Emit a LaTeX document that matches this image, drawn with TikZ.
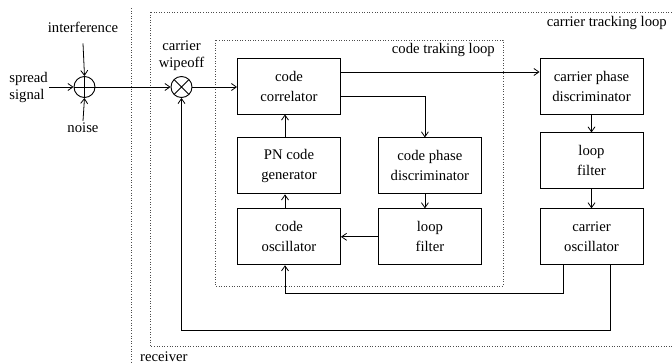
\documentclass[tikz,border=0pt]{standalone}
\usepackage{fontspec}
\setmainfont{Liberation Serif}
\usetikzlibrary{positioning}
\usetikzlibrary{arrows.meta}
\tikzset{
    block/.style = {rectangle, draw=black, line width=0.9pt, align=center, minimum width=103pt, minimum height=56pt, inner sep=2pt},
    sumnode/.style = {circle, draw=black, line width=0.9pt, minimum size=21pt, inner sep=0pt,
      path picture={\draw[line width=0.8pt] (path picture bounding box.north) -- (path picture bounding box.south)
        (path picture bounding box.west) -- (path picture bounding box.east);}},
    multnode/.style = {circle, draw=black, line width=0.9pt, minimum size=21pt, inner sep=0pt,
      path picture={\draw[line width=0.8pt] (path picture bounding box.north west) -- (path picture bounding box.south east)
        (path picture bounding box.south west) -- (path picture bounding box.north east);}},
    edgen/.style = {-{Straight Barb[length=5pt,width=7pt]}, line width=0.8pt, black},
    loopd/.style = {dotted, line width=0.6pt, black!70}, % loop borders
    lbl/.style = {align=center, inner sep=1pt, font=\rmfamily\fontsize{14.7}{17}\selectfont}
}
\begin{document}
\begin{tikzpicture}[
	x=1pt, y=1pt,
  node distance=23pt,
	font=\rmfamily\fontsize{14.7}{20}\selectfont]
  \useasboundingbox (0,0) rectangle (672,-364);
  % loop borders
  \draw[loopd] (131,-8) -- (131,-364);
  \draw[loopd] (150,-12) rectangle (680,-346);
  \draw[loopd] (215,-40) rectangle (503,-286);
  \node[anchor=base east, inner sep=0pt] (ctl) at (667,-27) {carrier tracking loop};
  \node[anchor=base east, inner sep=0pt] (cdl) at (495,-53) {code traking loop};
  \node[anchor=base west, inner sep=0pt] (rcv) at (140,-361) {receiver};
  % code loop
  \node[block] (corr) at (289,-86) {code\\correlator};
  \node[block, below=23pt of corr] (pn) {PN code\\generator};
  \node[block, below=14pt of pn] (cosc) {code\\oscillator};
  \node[block, right=37pt of pn] (cpd) {code phase\\discriminator};
  \node[block, right=37pt of cosc] (clf) {loop\\filter};
  % carrier loop
  \node[block] (kpd) at (591.5,-86) {carrier phase\\discriminator};
  \node[block, below=18pt of kpd] (klf) {loop\\filter};
  \node[block, below=19pt of klf] (kosc) {carrier\\oscillator};
  % front end
  \node[sumnode] (sum) at (84.5,-87) {};
  \node[multnode] (mult) at (181.5,-87) {};
  \node[lbl, anchor=east, align=left] (spread) at (49,-87) {spread\\signal};
  \node[lbl] (intf) at (83,-27) {interference};
  \node[lbl, inner sep=2pt] (noise) at (83,-128) {noise};
  \node[lbl, above=4pt of mult] (wipe) {carrier\\wipeoff};

  \draw[edgen] (spread.east) -- (sum.west);
  \draw[edgen] ([yshift=-10pt]intf.south) -- (sum.north);
  \draw[edgen] (noise.north) -- (sum.south);
  \draw[edgen] (sum.east) -- (mult.west);
  \draw[edgen] (mult.east) -- (mult.east -| corr.west);
  \draw[edgen] ([yshift=14pt]corr.east) -- ([yshift=14pt]kpd.west);
  \draw[edgen] ([yshift=-10pt]corr.east) -| ([xshift=-5pt]cpd.north);
  \draw[edgen] ([xshift=-4pt]pn.north) -- ([xshift=-4pt]corr.south);
  \draw[edgen] ([xshift=-4pt]cosc.north) -- ([xshift=-4pt]pn.south);
  \draw[edgen] ([xshift=-5pt]cpd.south) -- ([xshift=-5pt]clf.north);
  \draw[edgen] (clf.west) -- (cosc.east);
  \draw[edgen] (kpd) -- (klf);
  \draw[edgen] (klf) -- (kosc);
  \draw[edgen] ([xshift=-28pt]kosc.south) -- ++(0,-28) -| ([xshift=-4pt]cosc.south);
  \draw[edgen] ([xshift=19pt]kosc.south) -- ++(0,-65) -| (mult.south);
\end{tikzpicture}
\end{document}
